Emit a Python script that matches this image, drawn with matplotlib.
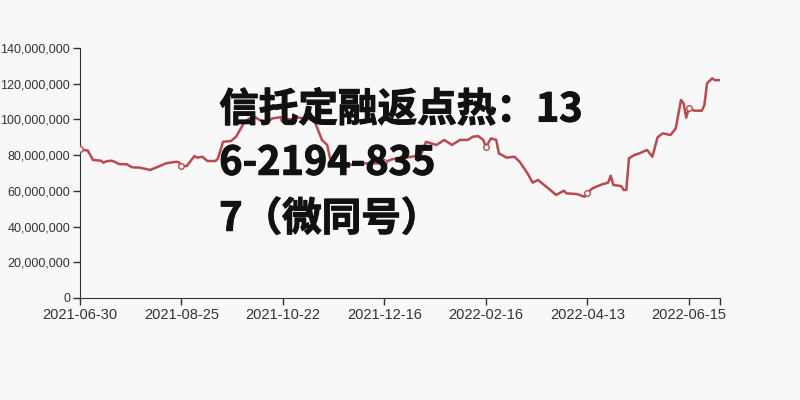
import matplotlib
matplotlib.use("Agg")
import matplotlib.pyplot as plt
import matplotlib.patheffects as pe

# sampled points: category index (trading day) and value
idx = [0, 3, 5, 8, 9, 10, 12, 13, 15, 18, 20, 23, 27, 30, 33, 37, 38, 39, 41, 44,
       45, 47, 49, 52, 53, 55, 58, 60, 63, 65, 67, 69, 72, 74, 77, 78, 81, 83, 86, 90,
       91, 93, 95, 96, 97, 103, 110, 116, 117, 120, 123, 127, 131, 133, 137, 140, 143, 146, 149, 151,
       153, 155, 156, 158, 160, 161, 164, 167, 169, 172, 174, 176, 178, 180, 183, 184, 186, 187, 191, 194,
       195, 197, 200, 203, 204, 205, 208, 209, 210, 211, 213, 215, 218, 220, 222, 224, 227, 229, 231, 232,
       233, 234, 236, 239, 240, 241, 243, 244, 246]
vals = [83.3, 82.5, 77.3, 76.9, 75.8, 76.5, 76.9, 76.5, 75.0, 74.9, 73.2, 73.0, 71.7, 73.5, 75.4, 76.3, 76.0, 73.9, 73.9, 79.5,
        78.6, 79.1, 76.7, 76.7, 78.0, 87.5, 87.9, 90.3, 98.0, 100.5, 101.5, 99.7, 98.7, 100.6, 101.2, 100.5, 100.0, 101.2, 100.6, 99.7,
        95.9, 88.5, 85.7, 79.0, 75.4, 74.5, 75.4, 75.4, 76.0, 77.7, 78.2, 79.0, 80.0, 87.5, 85.7, 88.5, 85.7, 88.5, 88.5, 90.3,
        90.7, 88.5, 84.7, 89.4, 88.5, 81.0, 78.6, 79.1, 76.3, 69.8, 64.6, 66.1, 63.8, 61.4, 57.7, 58.5, 60.1, 58.6, 58.2, 56.7,
        59.0, 61.4, 63.3, 64.6, 68.5, 63.3, 62.7, 60.5, 60.5, 78.2, 80.0, 81.0, 82.9, 79.1, 90.0, 92.2, 91.3, 95.0, 110.9, 109.0,
        101.0, 106.2, 104.9, 104.9, 108.0, 120.2, 123.0, 122.0, 122.0]
vals = [v * 1e6 for v in vals]

tick_idx = [0, 39, 78, 117, 156, 195, 234]
tick_labels = ["2021-06-30", "2021-08-25", "2021-10-22", "2021-12-16",
               "2022-02-16", "2022-04-13", "2022-06-15"]
n_points = 247

bg = "#f8f8f8"
line_color = "#b94a4f"

fig = plt.figure(figsize=(8, 4), dpi=100, facecolor=bg)
ax = fig.add_axes([0.1, 0.255, 0.8, 0.625], facecolor=bg)

ax.plot(idx, vals, color=line_color, lw=1.8, zorder=3)
# hollow markers at labelled ticks
mk_x = [i for i in idx if i in tick_idx]
mk_y = [v for i, v in zip(idx, vals) if i in tick_idx]
ax.plot(mk_x, mk_y, "o", ms=4, mfc="white", mec=line_color, mew=1, zorder=4)

ax.set_xlim(0, n_points - 1)
ax.set_ylim(0, 140e6)
ax.set_yticks(range(0, 140000001, 20000000))
ax.set_yticklabels([f"{v:,}" for v in range(0, 140000001, 20000000)])
ax.set_xticks(tick_idx + [n_points - 1])
ax.set_xticklabels(tick_labels + [""])

for s in ["top", "right"]:
    ax.spines[s].set_visible(False)
for s in ["left", "bottom"]:
    ax.spines[s].set_color("#333333")
ax.tick_params(colors="#333333", length=5, width=1, pad=2)
ax.tick_params(axis="x", labelsize=10.5)
ax.tick_params(axis="y", labelsize=9, pad=2)
for lab in ax.get_xticklabels() + ax.get_yticklabels():
    lab.set_family("Liberation Sans")

lines = ["信托定融返点热：13", "6-2194-835", "7（微同号）"]
ys = [0.725, 0.592, 0.452]
for t, y in zip(lines, ys):
    fig.text(0.274, y, t, fontsize=28.5, fontweight="black", color="#111111",
             family=["Noto Sans CJK SC", "DejaVu Sans"], va="center", ha="left", zorder=10,
             path_effects=[pe.withStroke(linewidth=0.8, foreground="#111111")])

fig.savefig("out.png", dpi=100, facecolor=bg)
